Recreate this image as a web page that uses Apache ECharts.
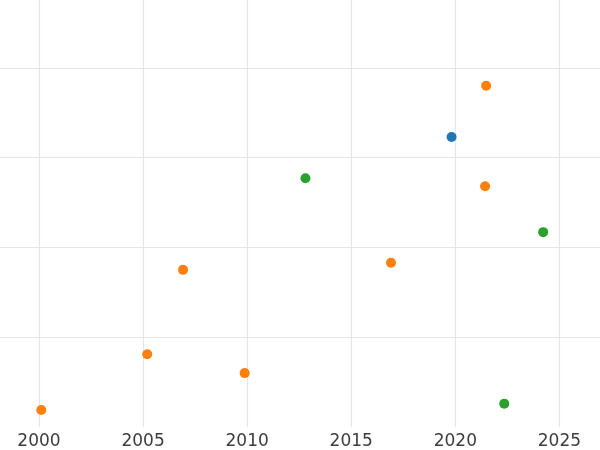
<!DOCTYPE html>
<html><head><meta charset="utf-8">
<script src="https://cdn.jsdelivr.net/npm/echarts@6/dist/echarts.min.js"></script>
<style>html,body{margin:0;padding:0;background:#fff}#c{width:600px;height:450px}</style>
</head><body><div id="c"></div>
<script>
const xTicks = [2000, 2005, 2010, 2015, 2020, 2025];
const yTicks = [1, 2, 3, 4];
const blueYears = [2019.82];
const blueValues = [3.23];
const orangeYears = [2000.11, 2005.20, 2006.92, 2009.88, 2016.91, 2021.48, 2021.43];
const orangeValues = [0.19, 0.81, 1.75, 0.60, 1.83, 3.80, 2.68];
const greenYears = [2012.80, 2022.35, 2024.22];
const greenValues = [2.77, 0.26, 2.17];

const pts = (xs, ys) => xs.map((x, i) => [x, ys[i]]);
const chart = echarts.init(document.getElementById('c'), null, {renderer: 'canvas'});
const mk = (name, color, data) => ({
  name, type: 'scatter', data, symbolSize: 10,
  itemStyle: {color, opacity: 1}, emphasis: {disabled: true}
});
chart.setOption({
  animation: false,
  backgroundColor: '#fff',
  grid: {left: 0, right: 0, top: 0, bottom: 22.6, containLabel: false},
  xAxis: {
    type: 'value', min: 1998.127, max: 2026.95,
    axisLine: {show: false},
    axisTick: {show: false, customValues: xTicks},
    axisLabel: {show: true, color: '#3d3d3d', fontSize: 17, fontFamily: "'DejaVu Sans'", margin: 6,
      customValues: xTicks, formatter: v => String(v)},
    splitLine: {show: true, lineStyle: {color: '#e5e5e5', width: 1.2}}
  },
  yAxis: {
    type: 'value', min: 0, max: 4.755,
    axisLine: {show: false},
    axisTick: {show: false, customValues: yTicks},
    axisLabel: {show: false, customValues: yTicks},
    splitLine: {show: true, lineStyle: {color: '#e5e5e5', width: 1.2}}
  },
  series: [
    mk('blue', '#1f77b4', pts(blueYears, blueValues)),
    mk('orange', '#ff7f0e', pts(orangeYears, orangeValues)),
    mk('green', '#2ca02c', pts(greenYears, greenValues))
  ]
});
</script></body></html>
